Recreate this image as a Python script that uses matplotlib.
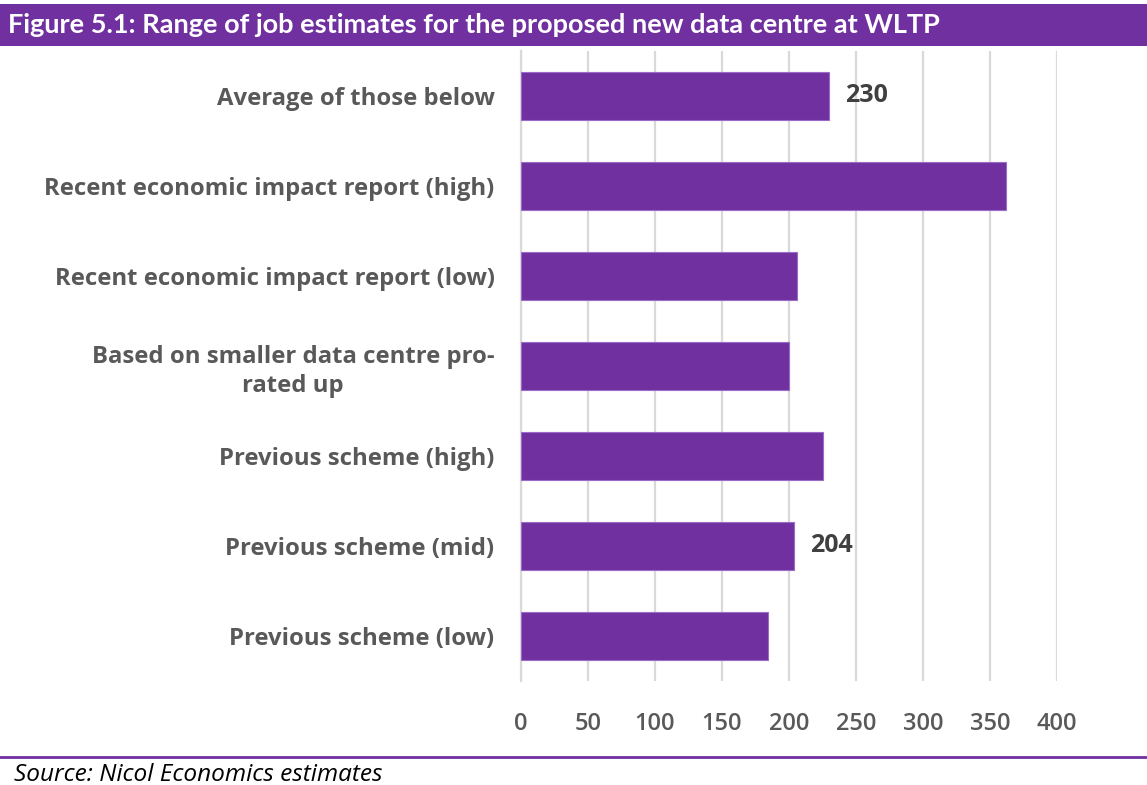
import matplotlib
matplotlib.use("Agg")
import matplotlib.pyplot as plt

categories = [
    "Average of those below",
    "Recent economic impact report (high)",
    "Recent economic impact report (low)",
    "Based on smaller data centre pro-\nrated up",
    "Previous scheme (high)",
    "Previous scheme (mid)",
    "Previous scheme (low)",
]
values = [230, 362, 206, 200, 225, 204, 184]
labelled = {0: "230", 5: "204"}
xticks = [0, 50, 100, 150, 200, 250, 300, 350, 400]

title = "Figure 5.1: Range of job estimates for the proposed new data centre at WLTP"
source = "Source: Nicol Economics estimates"

PURPLE = "#7030A0"
W, H = 1147, 785
fig = plt.figure(figsize=(W / 100, H / 100), dpi=100)
fig.patch.set_facecolor("white")

# title bar
fig.patches.append(plt.Rectangle((0, 1 - 46 / H), 1, 42 / H, transform=fig.transFigure,
                                 facecolor=PURPLE, edgecolor="none", zorder=0))
fig.text(8 / W, 1 - 25 / H, title, color="white", fontsize=19.5, fontweight="bold",
         family="Lato", va="center", ha="left")

# bottom line and source
fig.add_artist(plt.Line2D([0, 1], [1 - 757 / H, 1 - 757 / H], transform=fig.transFigure,
                          color=PURPLE, lw=2))
fig.text(14 / W, 1 - 775 / H, source, fontsize=17.6, style="italic", family="Open Sans",
         color="black", va="center", ha="left")

left, right = 521 / W, 1057 / W
top, bottom = 1 - 51 / H, 1 - 681 / H
ax = fig.add_axes([left, bottom, right - left, top - bottom])
n = len(categories)
ypos = list(range(n))
ax.barh(ypos, values, height=0.54, color=PURPLE, edgecolor="#9a6cc8", linewidth=0.8, zorder=3)
ax.set_ylim(n - 0.5, -0.5)
ax.set_xlim(0, 400)
ax.set_xticks(xticks)
ax.set_xticklabels([str(t) for t in xticks])
ax.set_yticks(ypos)
ax.set_yticklabels(categories, multialignment="center")
for lab in ax.get_yticklabels():
    lab.set_fontweight("bold")
    lab.set_family("Open Sans")
    lab.set_fontsize(17.2)
    lab.set_color("#595959")
    lab.set_linespacing(1.25)
for lab in ax.get_xticklabels():
    lab.set_family("Open Sans")
    lab.set_fontweight("semibold")
    lab.set_fontsize(17)
    lab.set_color("#595959")
ax.tick_params(axis="y", length=0, pad=19)
ax.tick_params(axis="x", length=0, pad=22)
ax.grid(axis="x", color="#d9d9d9", linewidth=1.6, zorder=0)
for s in ["top", "right", "bottom"]:
    ax.spines[s].set_visible(False)
ax.spines["left"].set_color("#d9d9d9")
ax.spines["left"].set_linewidth(1.6)

for i, txt in labelled.items():
    ax.annotate(txt, (values[i], i), xytext=(11.5, 0), textcoords="offset points",
                va="center", ha="left", fontsize=18, fontweight="bold",
                family="Open Sans", color="#404040")

fig.savefig("out.png", dpi=100)
